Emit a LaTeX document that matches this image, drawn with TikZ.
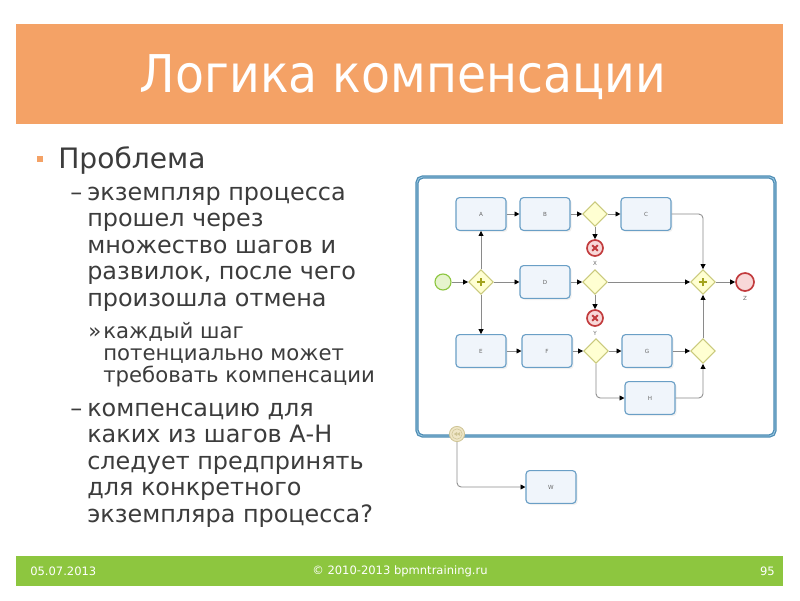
\documentclass[tikz,border=0pt]{standalone}
\usepackage{fontspec}
\setmainfont{DejaVu Sans}
\newfontfamily\titlefont[FakeStretch=0.91]{DejaVu Sans}
\usetikzlibrary{arrows.meta,positioning,shapes.geometric,shadows}

\definecolor{titleorange}{HTML}{F4A266}
\definecolor{footgreen}{HTML}{8DC63F}
\definecolor{bodytext}{HTML}{3C3C3C}
\definecolor{pooldark}{HTML}{4E8DB4}
\definecolor{poollight}{HTML}{9CC8E2}
\definecolor{taskblue}{HTML}{6A9FC6}
\definecolor{taskfill}{HTML}{F0F5FB}
\definecolor{gwline}{HTML}{CACA7C}
\definecolor{gwfill}{HTML}{FFFFD2}
\definecolor{plusolive}{HTML}{A3A31E}
\definecolor{startgreen}{HTML}{8CC63F}
\definecolor{startfill}{HTML}{E6F4CD}
\definecolor{endred}{HTML}{C23B3D}
\definecolor{endfill}{HTML}{F8D8D8}
\definecolor{flowgray}{HTML}{8A8A8A}
\definecolor{compfill}{HTML}{EFE6C6}
\definecolor{compline}{HTML}{CFC596}

\begin{document}
\begin{tikzpicture}[x=0.025cm,y=-0.025cm]
\tikzset{levelOne/.style={anchor=base west,inner sep=0,text=bodytext,
font=\fontsize{20}{24}\selectfont}}
\tikzset{levelTwo/.style={anchor=base west,inner sep=0,text=bodytext,
font=\fontsize{17}{19}\selectfont}}
\tikzset{levelThree/.style={anchor=base west,inner sep=0,text=bodytext,
font=\fontsize{15.1}{17}\selectfont}}
\tikzset{footer/.style={text=white,inner sep=0,
font=\fontsize{8.2}{10}\selectfont}}

\tikzset{task/.style={
rectangle,draw=taskblue,line width=0.8pt,
fill=taskfill,rounded corners=2.5pt,
minimum width=1.25cm,
minimum height=0.82cm,
inner sep=0,text=black!60,
font=\fontsize{4}{4}\selectfont,
drop shadow={opacity=0.12,shadow xshift=0.04cm,shadow yshift=-0.04cm}}}

\tikzset{gateway/.style={
diamond,draw=gwline,line width=0.8pt,fill=gwfill,
minimum size=0.62cm,inner sep=0}}

\tikzset{gwplus/.style={gateway,
path picture={\draw[plusolive,line width=1.6pt]
([xshift=-0.11cm]path picture bounding box.center) --
([xshift=0.11cm]path picture bounding box.center)
([yshift=-0.11cm]path picture bounding box.center) --
([yshift=0.11cm]path picture bounding box.center);}}}

\tikzset{startev/.style={
circle,draw=startgreen,line width=0.8pt,fill=startfill,
minimum size=0.4cm,inner sep=0}}

\tikzset{endev/.style={
circle,draw=endred,line width=1.2pt,fill=endfill,
minimum size=0.45cm,inner sep=0}}

\tikzset{errorev/.style={
circle,draw=endred,line width=1.2pt,fill=endfill,
minimum size=0.4cm,inner sep=0,
path picture={\draw[endred,line width=1.4pt]
([shift={(-0.07cm,-0.07cm)}]path picture bounding box.center) --
([shift={(0.07cm,0.07cm)}]path picture bounding box.center)
([shift={(-0.07cm,0.07cm)}]path picture bounding box.center) --
([shift={(0.07cm,-0.07cm)}]path picture bounding box.center);}}}

\tikzset{compev/.style={
circle,draw=compline,line width=0.6pt,fill=compfill,
minimum size=0.38cm,inner sep=0,
path picture={
\draw[compline,line width=0.4pt] (path picture bounding box.center) circle (0.13cm);
\fill[compline]
([xshift=-0.08cm]path picture bounding box.center) --
([yshift=0.05cm]path picture bounding box.center) --
([yshift=-0.05cm]path picture bounding box.center) -- cycle
(path picture bounding box.center) --
([shift={(0.08cm,0.05cm)}]path picture bounding box.center) --
([shift={(0.08cm,-0.05cm)}]path picture bounding box.center) -- cycle;}}}

\tikzset{evlabel/.style={inner sep=0,text=black!60,
font=\fontsize{4}{4}\selectfont}}

\tikzset{flow/.style={draw=flowgray,line width=0.6pt,rounded corners=3pt,
-{Triangle[length=3.5pt,width=3.5pt,color=black]}}}

\useasboundingbox (0,0) rectangle (800,600);

% title bar
\fill[titleorange] (16,24) rectangle (783,124);
\draw (403,92) node[anchor=base,text=white,name=title,
font=\titlefont\fontsize{37}{40}\selectfont] {Логика компенсации};

% text
\fill[titleorange] (37,156) rectangle (43,162);
\draw (58,168) node[levelOne,name=problem] {Проблема};

\draw (70,200) node[levelTwo,name=dashOne] {–};
\foreach \txt [count=\i] in {экземпляр процесса,прошел через,
множество шагов и,{развилок, после чего},произошла отмена}
\draw (87,{200+26.6*(\i-1)}) node[levelTwo,name=lineA\i] {\txt};

\draw (88,338) node[levelThree,name=quote] {»};
\foreach \txt [count=\i] in {каждый шаг,потенциально может,
требовать компенсации}
\draw (103,{338+22*(\i-1)}) node[levelThree,name=lineB\i] {\txt};

\draw (70,416) node[levelTwo,name=dashTwo] {–};
\foreach \txt [count=\i] in {компенсацию для,каких из шагов А-Н,
следует предпринять,для конкретного,экземпляра процесса?}
\draw (87,{416+26.6*(\i-1)}) node[levelTwo,name=lineC\i] {\txt};

% pool
\draw[pooldark,line width=2.4pt,fill=white,rounded corners=4pt]
(417,177) rectangle (775,436);
\draw[poollight,line width=0.6pt,rounded corners=4pt]
(417,177) rectangle (775,436);

% process
\draw
(443,282) node[startev,name=start] {}
(481,282) node[gwplus,name=split] {}
(481,214) node[task,name=tA] {A}
(545,214) node[task,name=tB] {B}
(595,214) node[gateway,name=gwX] {}
(646,214) node[task,name=tC] {C}
(595,248) node[errorev,name=evX] {}
(545,282) node[task,name=tD] {D}
(595,282) node[gateway,name=gwY] {}
(595,318) node[errorev,name=evY] {}
(703,282) node[gwplus,name=join] {}
(745,282) node[endev,name=evZ] {}
(481,351) node[task,name=tE] {E}
(547,351) node[task,name=tF] {F}
(596,351) node[gateway,name=gwF] {}
(647,351) node[task,name=tG] {G}
(650,398) node[task,name=tH] {H}
(703,351) node[gateway,name=gwM] {}
(457,434) node[compev,name=comp] {}
(551,487) node[task,name=tW] {W};

\draw
(evX.south) node[below=3pt,evlabel,name=lblX] {X}
(evY.south) node[below=3pt,evlabel,name=lblY] {Y}
(evZ.south) node[below=3pt,evlabel,name=lblZ] {Z};

\draw[flow] (start) -- (split);
\draw[flow] (split) -- (tA);
\draw[flow] (split) -- (tD);
\draw[flow] (split) -- (tE);
\draw[flow] (tA) -- (tB);
\draw[flow] (tB) -- (gwX);
\draw[flow] (gwX) -- (tC);
\draw[flow] (gwX) -- (evX);
\draw[flow] (tC.east) -| (join);
\draw[flow] (tD) -- (gwY);
\draw[flow] (gwY) -- (join);
\draw[flow] (gwY) -- (evY);
\draw[flow] (tE) -- (tF);
\draw[flow] (tF) -- (gwF);
\draw[flow] (gwF) -- (tG);
\draw[flow] (gwF) |- (tH);
\draw[flow] (tG) -- (gwM);
\draw[flow] (tH) -| (gwM);
\draw[flow] (gwM) -- (join);
\draw[flow] (join) -- (evZ);
\draw[flow] (comp) |- (tW);

% footer
\fill[footgreen] (16,556) rectangle (783,586);
\draw
(30,571) node[footer,anchor=west,name=date] {05.07.2013}
(400,571) node[footer,name=copy] {© 2010-2013 bpmntraining.ru}
(775,571) node[footer,anchor=east,name=page] {95};

\end{tikzpicture}
\end{document}
